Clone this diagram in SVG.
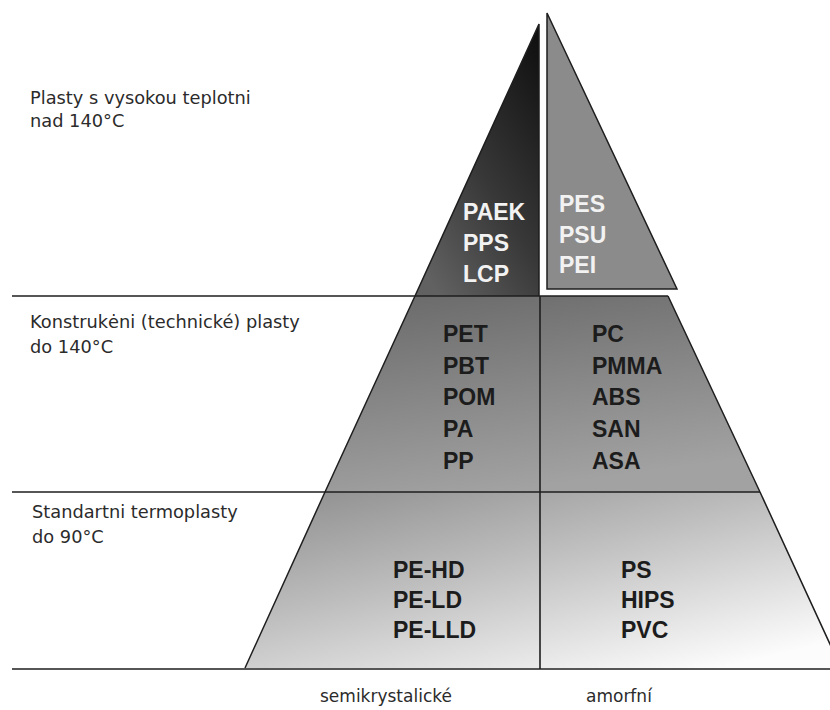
<svg xmlns="http://www.w3.org/2000/svg" width="830" height="710" viewBox="0 0 830 710">
<defs>
<linearGradient id="gTop" x1="0.9" y1="0" x2="0.2" y2="1">
<stop offset="0" stop-color="#111"/>
<stop offset="0.55" stop-color="#383838"/>
<stop offset="1" stop-color="#616161"/>
</linearGradient>
<linearGradient id="gMid" x1="0.1" y1="0" x2="0.4" y2="1">
<stop offset="0" stop-color="#6a6a6a"/>
<stop offset="1" stop-color="#a2a2a2"/>
</linearGradient>
<linearGradient id="gBot" x1="0" y1="0" x2="0.8" y2="1">
<stop offset="0" stop-color="#8c8c8c"/>
<stop offset="0.45" stop-color="#bdbdbd"/>
<stop offset="1" stop-color="#fcfcfc"/>
</linearGradient>
</defs>
<style>
.lbl{font-family:"DejaVu Sans","Liberation Sans",sans-serif;font-size:17.8px;fill:#2b2b2b}
.axis{font-family:"DejaVu Sans","Liberation Sans",sans-serif;font-size:17px;fill:#2b2b2b}
.pt{font-family:"Liberation Sans",Arial,sans-serif;font-size:23px;font-weight:bold;fill:#1c1c1c}
.pw{font-family:"Liberation Sans",Arial,sans-serif;font-size:23px;font-weight:bold;fill:#f2f2f2}
.edge{stroke:#1e1e1e;stroke-width:1.5;fill:none}
.ln{stroke:#1e1e1e;stroke-width:1.6;fill:none}
</style>
<rect width="830" height="710" fill="#fff"/>

<g id="tier-standard">
<polygon points="325,492 760,492 841,668 245,668" fill="url(#gBot)"/>
<path class="edge" d="M325,492 L245,668 M760,492 L841,668"/>
<text class="pt" x="393" y="578">PE-HD</text>
<text class="pt" x="393" y="608">PE-LD</text>
<text class="pt" x="393" y="638">PE-LLD</text>
<text class="pt" x="621" y="578">PS</text>
<text class="pt" x="621" y="608">HIPS</text>
<text class="pt" x="621" y="638">PVC</text>
</g>

<g id="tier-technical">
<polygon points="415,296 668,296 760,492 325,492" fill="url(#gMid)"/>
<path class="edge" d="M415,296 L325,492 M668,296 L760,492"/>
<text class="pt" x="443" y="342">PET</text>
<text class="pt" x="443" y="374">PBT</text>
<text class="pt" x="443" y="405">POM</text>
<text class="pt" x="443" y="437">PA</text>
<text class="pt" x="443" y="469">PP</text>
<text class="pt" x="592" y="342">PC</text>
<text class="pt" x="592" y="374">PMMA</text>
<text class="pt" x="592" y="405">ABS</text>
<text class="pt" x="592" y="437">SAN</text>
<text class="pt" x="592" y="469">ASA</text>
</g>

<g id="tier-high-left">
<polygon points="539,24 539,296 415,296" fill="url(#gTop)"/>
<path class="edge" d="M415,296 L539,24 L539,296"/>
<text class="pw" x="463" y="220">PAEK</text>
<text class="pw" x="463" y="251">PPS</text>
<text class="pw" x="463" y="282">LCP</text>
</g>

<g id="tier-high-right">
<polygon points="547,13 677,289 547,289" fill="#8b8b8b" stroke="#1e1e1e" stroke-width="1.5"/>
<text class="pw" x="559" y="212">PES</text>
<text class="pw" x="559" y="243">PSU</text>
<text class="pw" x="559" y="273">PEI</text>
</g>

<g id="connectors">
<line class="ln" x1="12" y1="296" x2="668" y2="296"/>
<line class="ln" x1="12" y1="492" x2="760" y2="492"/>
<line class="ln" x1="12" y1="669" x2="830" y2="669"/>
<line class="ln" x1="540" y1="296" x2="540" y2="669"/>
</g>

<g id="labels">
<text class="lbl" x="30" y="104">Plasty s vysokou teplotni</text>
<text class="lbl" x="30" y="127">nad 140°C</text>
<text class="lbl" x="30" y="328">Konstrukėni (technické) plasty</text>
<text class="lbl" x="30" y="353">do 140°C</text>
<text class="lbl" x="32" y="518">Standartni termoplasty</text>
<text class="lbl" x="32" y="543">do 90°C</text>
<text class="axis" x="320" y="702">semikrystalické</text>
<text class="axis" x="586" y="702">amorfní</text>
</g>
</svg>
